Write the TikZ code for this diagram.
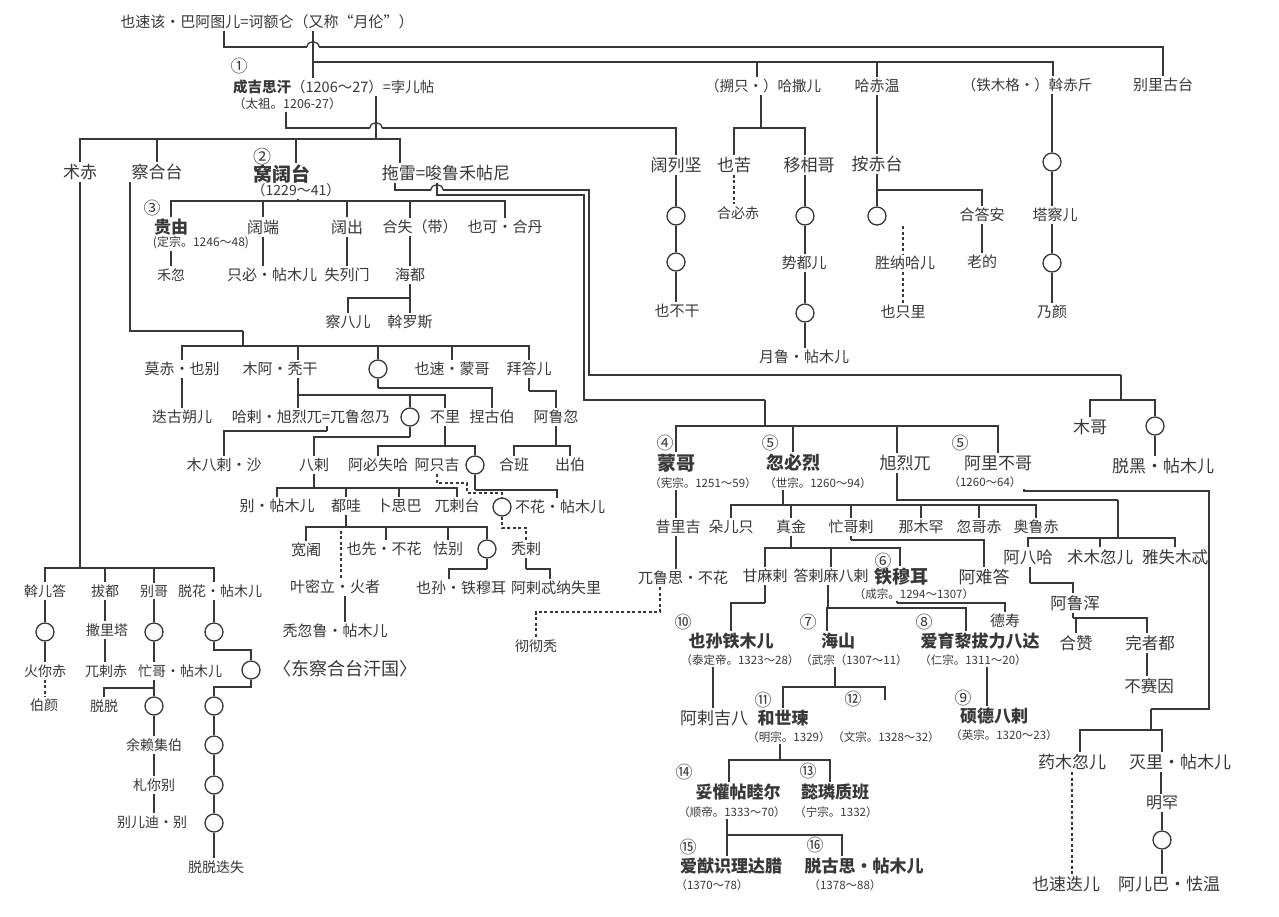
\documentclass[tikz,border=0pt]{standalone}
\usepackage{fontspec}
\setmainfont{Noto Sans CJK SC}
\newcommand\famline[3]{\draw (#1) -- (#1 |- 0,#2); \foreach \kidpt in {#3}{\draw (#1 |- 0,#2) -| (\kidpt);}}
\begin{document}
\begin{tikzpicture}[x=1pt,y=-1pt,line width=1.3pt,color=black!78,
  t/.style={inner sep=1.5pt,font=\fontsize{15}{15}\selectfont},
  fs/.style={font=\fontsize{#1}{#1}\selectfont},
  fb/.style={font=\fontsize{#1}{#1}\selectfont\bfseries},
  an/.style={inner sep=1pt,font=\fontsize{11.5}{11.5}\selectfont},
  num/.style={inner sep=0pt,font=\fontsize{17}{17}\selectfont},
  ring/.style={circle,draw,minimum size=18pt,inner sep=0pt},
  dl/.style={dash pattern=on 3pt off 2.5pt}]
\fill[white] (0,0) rectangle (1279,916);
\useasboundingbox (0,0) rectangle (1279,916);
% ---------- top
\node[t] (ysg) at (267,22) {也速该・巴阿图儿=诃额仑（又称“月伦”）};
\node[num] (n1) at (239,66) {①};
\node[t,fs=14.5,anchor=west] (cj) at (231,87) {{\bfseries 成吉思汗}（1206～27）=孛儿帖};
\node[t,fs=12.5,anchor=west] (cj2) at (231,104) {（太祖。1206-27）};
\node[t,fs=14.5] (hsr) at (763,86) {（搠只・）哈撒儿};
\node[t] (hcw) at (877,86) {哈赤温};
\node[t,fs=14.5] (wcj) at (1027,85) {（铁木格・）斡赤斤};
\node[t] (blgt) at (1163,85) {别里古台};
% ---------- row 2
\node[t,fs=17] (zc) at (80,172) {术赤};
\node[t,fs=17] (chgt) at (157,172) {察合台};
\node[num,fs=18] (n2) at (262,157) {②};
\node[t,fb=19] (wkt) at (282,174) {窝阔台};
\node[t,fs=14] (wkt2) at (296,190) {（1229～41）};
\node[t,fs=17] (tl) at (446,173) {拖雷=唆鲁禾帖尼};
\node[t,fs=17] (kljian) at (676,165) {阔列坚};
\node[t,fs=17] (yk) at (734,165) {也苦};
\node[t,fs=17] (yxg) at (809,165) {移相哥};
\node[t,fs=17] (acd) at (877,164) {按赤台};
\node[ring] (c13) at (1052,162) {};
% ---------- 窝阔台
\node[num] (n3) at (152,208) {③};
\node[t,fb=17] (gy) at (171,227) {贵由};
\node[an,fs=12] (gy2) at (201,243) {(定宗。1246～48)};
\node[t,fs=16] (kd) at (263,227) {阔端};
\node[t,fs=16] (kc) at (347,227) {阔出};
\node[t] (hs) at (420,227) {合失（带）};
\node[t] (ykhd) at (505,227) {也可・合丹};
\node[t,fs=14] (hh) at (171,275) {禾忽};
\node[t] (zbtm) at (272,275) {只必・帖木儿};
\node[t] (slm) at (347,275) {失列门};
\node[t] (hd) at (410,275) {海都};
\node[t] (cbe) at (348,322) {察八儿};
\node[t] (wls) at (410,322) {斡罗斯};
% ---------- top right chains
\node[ring] (c10) at (676,216) {};
\node[ring] (c11) at (676,262) {};
\node[t] (ybg) at (677,311) {也不干};
\node[t,fs=14] (hbc) at (738,213) {合必赤};
\node[ring] (c8) at (805,216) {};
\node[t] (sde) at (804,263) {势都儿};
\node[ring] (c9) at (805,313) {};
\node[t] (ylt) at (804,357) {月鲁・帖木儿};
\node[ring] (c12) at (877,216) {};
\node[t] (hda) at (982,215) {合答安};
\node[t] (ld) at (982,262) {老的};
\node[t] (snhe) at (905,263) {胜纳哈儿};
\node[t] (yzl) at (903,312) {也只里};
\node[t] (tcr) at (1055,215) {塔察儿};
\node[ring] (c14) at (1052,263) {};
\node[t] (ny) at (1052,312) {乃颜};
% ---------- 察合台
\node[t] (mcyb) at (182,369) {莫赤・也别};
\node[t] (matg) at (280,369) {木阿・秃干};
\node[ring] (c1) at (378,369) {};
\node[t] (ysmg) at (452,369) {也速・蒙哥};
\node[t] (bde) at (529,369) {拜答儿};
\node[t] (dgse) at (182,417) {迭古朔儿};
\node[t] (hlxl) at (311,417) {哈剌・旭烈兀=兀鲁忽乃};
\node[ring] (c2) at (410,417) {};
\node[t] (bl) at (445,417) {不里};
\node[t] (ngb) at (492,417) {捏古伯};
\node[t] (alh) at (556,417) {阿鲁忽};
\node[t] (mbls) at (224,465) {木八剌・沙};
\node[t] (bl8) at (314,465) {八剌};
\node[t] (abss) at (378,465) {阿必失哈};
\node[t] (azj) at (437,465) {阿只吉};
\node[ring] (c3) at (475,465) {};
\node[t] (hb) at (514,465) {合班};
\node[t] (cb) at (570,465) {出伯};
\node[t] (bltm) at (277,506) {别・帖木儿};
\node[t] (dw) at (346,506) {都哇};
\node[t] (ssb) at (399,506) {卜思巴};
\node[t] (ult) at (457,506) {兀剌台};
\node[ring] (c4) at (502,507) {};
\node[t] (bhtm) at (560,507) {不花・帖木儿};
\node[t] (kk) at (306,550) {宽阇};
\node[t] (yxbh) at (384,549) {也先・不花};
\node[t] (qb) at (448,549) {怯别};
\node[ring] (c5) at (487,549) {};
\node[t] (tl2) at (526,549) {秃剌};
\node[t] (ymlhz) at (335,587) {叶密立・火者};
\node[t] (ysttme) at (461,588) {也孙・铁穆耳};
\node[t] (alnsl) at (556,588) {阿剌忒纳失里};
\node[t] (tglt) at (335,631) {秃忽鲁・帖木儿};
\node[t,fs=18] (dgh) at (345,669) {〈东察合台汗国〉};
% ---------- 术赤
\node[t,fs=14] (wed) at (45,591) {斡儿答};
\node[t,fs=14] (bd) at (105,591) {拔都};
\node[t,fs=14] (bg) at (154,591) {别哥};
\node[t,fs=14] (chtm) at (220,591) {脱花・帖木儿};
\node[ring] (c15) at (45,632) {};
\node[t,fs=14] (hnc) at (45,671) {火你赤};
\node[t,fs=14] (by) at (44,705) {伯颜};
\node[t,fs=14] (slt) at (107,630) {撒里塔};
\node[t,fs=14] (ulc) at (106,671) {兀剌赤};
\node[ring] (c16) at (154,632) {};
\node[t,fs=14] (mgtm) at (180,671) {忙哥・帖木儿};
\node[t,fs=14] (tt) at (104,706) {脱脱};
\node[ring] (c17) at (154,706) {};
\node[t,fs=14] (ylj) at (154,745) {余赖集伯};
\node[t,fs=14] (zne) at (154,785) {札你别};
\node[t,fs=14] (beb) at (152,822) {别儿迪・别};
\node[ring] (c18) at (214,632) {};
\node[ring] (c19) at (251,670) {};
\node[ring] (c20) at (214,706) {};
\node[ring] (c21) at (214,745) {};
\node[ring] (c22) at (214,785) {};
\node[ring] (c23) at (214,823) {};
\node[t,fs=14] (ttms) at (216,867) {脱脱迭失};
% ---------- 拖雷
\node[t,fs=17] (mg) at (1090,427) {木哥};
\node[ring] (c6) at (1155,426) {};
\node[t,fs=17] (thtm) at (1163,466) {脱黑・帖木儿};
\node[num] (n4) at (665,443) {④};
\node[t,fb=19] (mgg) at (676,463) {蒙哥};
\node[an] (mgg2) at (703,483) {（宪宗。1251～59）};
\node[num] (n5a) at (770,443) {⑤};
\node[t,fb=18] (hbl) at (793,463) {忽必烈};
\node[an] (hbl2) at (818,483) {（世宗。1260～94）};
\node[t,fs=17] (xlw) at (905,463) {旭烈兀};
\node[num] (n5b) at (960,443) {⑤};
\node[t,fs=17] (albg) at (998,463) {阿里不哥};
\node[an] (albg2) at (985,482) {（1260～64）};
\node[t] (slj) at (678,527) {昔里吉};
\node[t] (dre) at (731,527) {朵儿只};
\node[t] (zj) at (791,527) {真金};
\node[t] (mgl) at (851,527) {忙哥剌};
\node[t] (nmh) at (921,527) {那木罕};
\node[t] (hgc) at (979,527) {忽哥赤};
\node[t] (olc) at (1036,527) {奥鲁赤};
\node[t,fs=16.5] (abh) at (1028,557) {阿八哈};
\node[t,fs=16.5] (jmhe) at (1100,557) {术木忽儿};
\node[t,fs=16.5] (ysmt) at (1175,557) {雅失木忒};
\node[t] (ylsbh) at (683,578) {兀鲁思・不花};
\node[t] (gml) at (765,576) {甘麻剌};
\node[t] (dlmbl) at (831,576) {答剌麻八剌};
\node[num] (n6) at (883,561) {⑥};
\node[t,fb=18] (tme) at (901,577) {铁穆耳};
\node[an] (tme2) at (914,594) {（成宗。1294～1307）};
\node[t,fs=17] (anda) at (984,577) {阿难答};
\node[t,fs=16.5] (alhn) at (1075,603) {阿鲁浑};
\node[t,fs=14] (cct) at (536,646) {彻彻秃};
\node[num] (n10) at (683,622) {⑩};
\node[t,fb=17] (ystme) at (731,641) {也孙铁木儿};
\node[an] (ystme2) at (740,660) {（泰定帝。1323～28）};
\node[num] (n7) at (808,622) {⑦};
\node[t,fb=17] (hs2) at (838,641) {海山};
\node[an] (hs22) at (854,660) {（武宗（1307～11）};
\node[num] (n8) at (924,622) {⑧};
\node[t,fb=17] (ayl) at (980,641) {爱育黎拔力八达};
\node[an] (ayl2) at (973,660) {（仁宗。1311～20）};
\node[t] (ds) at (1005,621) {德寿};
\node[t,fs=16.5] (hz) at (1076,643) {合赞};
\node[t,fs=16.5] (wzd) at (1150,643) {完者都};
\node[t,fs=16.5] (bsy) at (1149,686) {不赛因};
\node[t,fs=17] (alj8) at (714,718) {阿剌吉八};
\node[num] (n11) at (763,700) {⑪};
\node[t,fb=17] (hsw) at (783,718) {和世瑓};
\node[an] (hsw2) at (789,737) {（明宗。1329）};
\node[num] (n12) at (853,699) {⑫};
\node[an] (wz2) at (886,737) {（文宗。1328～32）};
\node[num] (n9) at (963,698) {⑨};
\node[t,fb=17] (sdbl) at (994,716) {硕德八剌};
\node[an] (sdbl2) at (1004,735) {（英宗。1320～23）};
\node[num] (n14) at (684,772) {⑭};
\node[t,fb=17] (thtmr) at (738,792) {妥懽帖睦尔};
\node[an] (thtmr2) at (732,812) {（顺帝。1333～70）};
\node[num] (n13) at (808,771) {⑬};
\node[t,fb=17] (yljb) at (835,792) {懿璘质班};
\node[an] (yljb2) at (836,812) {（宁宗。1332）};
\node[num] (n15) at (688,847) {⑮};
\node[t,fb=17] (aysl) at (731,866) {爱猷识理达腊};
\node[an] (aysl2) at (712,885) {（1370～78）};
\node[num] (n16) at (815,845) {⑯};
\node[t,fb=17] (tgs) at (864,866) {脱古思・帖木儿};
\node[an] (tgs2) at (845,885) {（1378～88）};
\node[t,fs=17] (ymhe) at (1072,762) {药木忽儿};
\node[t,fs=17] (mltm) at (1180,762) {灭里・帖木儿};
\node[t,fs=16] (mh) at (1162,803) {明罕};
\node[ring] (c7) at (1162,840) {};
\node[t,fs=17] (ysde) at (1066,884) {也速迭儿};
\node[t,fs=17] (aebqw) at (1169,884) {阿儿巴・怯温};
% ---------- helper points
\coordinate (hsrT) at (hsr.north -| 757,0);
\coordinate (hsrB) at (hsr.south -| 761,0);
\coordinate (wcjT) at (wcj.north -| 1053,0);
\coordinate (wcjB) at (wcj.south -| 1052,0);
\coordinate (cjF) at (cj2.south -| 286,0);
\coordinate (cjM) at (cj.south -| 376,0);
\coordinate (wktT) at (wkt.north -| 296,0);
\coordinate (tlT) at (tl.north -| 400,0);
\coordinate (tlF) at (tl.south -| 395,0);
\coordinate (tlM) at (tl.south -| 437,0);
\coordinate (wkB) at (wkt2.south -| 298,0);
\coordinate (hsT) at (hs.north -| 410,0);
\coordinate (hsB) at (hs.south -| 410,0);
\coordinate (yxgT) at (yxg.north -| 805,0);
\coordinate (yxgB) at (yxg.south -| 805,0);
\coordinate (snTop) at (903,226);
\coordinate (chB) at (chgt.south -| 130,0);
\coordinate (matgT) at (matg.north -| 298,0);
\coordinate (matgB) at (matg.south -| 298,0);
\coordinate (hlxlB) at (hlxl.south -| 327,0);
\coordinate (bhtmT) at (bhtm.north -| 557,0);
\coordinate (yxbhT) at (yxbh.north -| 386,0);
\coordinate (dwbar) at (341,527);
\coordinate (ysttmeT) at (ysttme.north -| 449,0);
\coordinate (alnslT) at (alnsl.north -| 550,0);
\coordinate (chtmT) at (chtm.north -| 214,0);
\coordinate (chtmB) at (chtm.south -| 214,0);
\coordinate (mgtmB) at (mgtm.south -| 154,0);
\coordinate (xlwT) at (xlw.north -| 897,0);
\coordinate (xlwB) at (xlw.south -| 897,0);
\coordinate (hblB) at (hbl2.south -| 783,0);
\coordinate (ylD) at (ylsbh.south -| 660,0);
\coordinate (tmeT) at (tme.north -| 900,0);
\coordinate (tmeB) at (tme2.south -| 897,0);
\coordinate (dlB) at (dlmbl.south -| 828,0);
\coordinate (hs2T) at (hs2.north -| 827,0);
\coordinate (aylT) at (ayl.north -| 966,0);
\coordinate (aylB) at (ayl2.south -| 987,0);
\coordinate (hsB2) at (hs22.south -| 835,0);
\coordinate (wzT) at (885,700);
\coordinate (hswB) at (hsw2.south -| 780,0);
\coordinate (thtmrT) at (thtmr.north -| 729,0);
\coordinate (yljbT) at (yljb.north -| 830,0);
\coordinate (thB) at (thtmr2.south -| 727,0);
\coordinate (aysT) at (aysl.north -| 727,0);
\coordinate (tgsT) at (tgs.north -| 842,0);
\coordinate (abhB) at (abh.south -| 1030,0);
\coordinate (alhnT) at (alhn.north -| 1073,0);
\coordinate (alhnB) at (alhn.south -| 1073,0);
\coordinate (wzdT) at (wzd.north -| 1147,0);
\coordinate (wzdB) at (wzd.south -| 1147,0);
\coordinate (albgB) at (albg2.south -| 1024,0);
\coordinate (ymheT) at (ymhe.north -| 1080,0);
\coordinate (mltmT) at (mltm.north -| 1162,0);
\coordinate (mltmB) at (mltm.south -| 1161,0);
% ---------- top lines (hops drawn as separate short arcs)
\draw (ysg.south -| 224,0) |- (307,47);
\draw (307,47) .. controls (307,40) and (319,40) .. (319,47);
\draw (319,47) -| (blgt.north);
\draw (ysg.south -| 313,0) -- (cj.north -| 313,0);
\famline{313,62}{62}{hsrT, hcw.north, wcjT}
\draw (cjF) |- (370,128);
\draw (370,128) .. controls (370,121) and (382,121) .. (382,128);
\draw (382,128) -| (kljian.north);
\famline{cjM}{139}{zc.north, chgt.north, wktT, tlT}
% 窝阔台
\famline{wkB}{201}{gy.north, kd.north, kc.north, hsT, ykhd.north}
\draw (gy2.south -| gy) -- (hh.north);
\draw (kd.south) -- (kd.south |- zbtm.north);
\draw (kc.south) -- (slm.north);
\draw (hsB) -- (hd.north);
\famline{hd.south}{298}{cbe.north, wls.north}
% top right
\draw (kljian.south) -- (c10.north);
\draw (c10.south) -- (c11.north);
\draw (c11.south) -- (ybg.north -| c11);
\famline{hsrB}{128}{yk.north, yxgT}
\draw[dl] (yk.south) -- (yk.south |- hbc.north);
\draw (yxgB) -- (c8.north);
\draw (c8.south) -- (c8.south |- sde.north);
\draw (sde.south -| c8) -- (c9.north);
\draw (c9.south) -- (c9.south |- ylt.north);
\draw (hcw.south) -- (hcw.south |- acd.north);
\famline{acd.south}{190}{c12.north, hda.north}
\draw (hda.south) -- (ld.north);
\draw[dl] (snTop) -- (snhe.north -| snTop);
\draw[dl] (snhe.south -| snTop) -- (yzl.north -| snTop);
\draw (wcjB) -- (c13.north);
\draw (c13.south) -- (c13.south |- tcr.north);
\draw (tcr.south -| c13) -- (c14.north);
\draw (c14.south) -- (c14.south |- ny.north);
% 察合台
\draw (chB) |- (243,331);
\famline{243,331}{346}{mcyb.north, matgT, c1.north, ysmg.north, bde.north}
\draw (mcyb.south) -- (dgse.north);
\draw (matgB) -- (hlxl.north -| matgB);
\famline{matgB}{395}{c2.north, bl.north}
\famline{c1.south}{388}{ngb.north}
\famline{bde.south}{391}{alh.north}
\famline{hlxlB}{431}{mbls.north}
\famline{c2.south}{437}{bl8.north}
\famline{bl.south}{446}{abss.north, c3.north}
\famline{alh.south}{446}{hb.north, cb.north}
\famline{bl8.south}{488}{bltm.north, dw.north, ssb.north, ult.north}
\famline{c3.south}{490}{bhtmT}
\draw[dl] (azj.south) |- (467,483) |- (c4.north |- 0,493) -- (c4.north);
\famline{dw.south}{527}{kk.north, yxbhT, qb.north, c5.north}
\draw[dl] (ymlhz.north -| dwbar) -- (dwbar);
\draw[dl] (c4.south) |- (tl2.north |- 0,528) -- (tl2.north);
\famline{c5.south}{569}{ysttmeT}
\famline{tl2.south}{569}{alnslT}
\draw (ymlhz.south -| 345,0) -- (tglt.north -| 345,0);
% 术赤
\famline{zc.south}{568}{wed.north, bd.north, bg.north, chtmT}
\draw (wed.south) -- (c15.north);
\draw (c15.south) -- (hnc.north);
\draw[dl] (hnc.south) -- (hnc.south |- by.north);
\draw (bd.south) -- (slt.north -| bd);
\draw (slt.south -| bd) -- (ulc.north -| bd);
\draw (bg.south) -- (c16.north);
\draw (c16.south) -- (mgtm.north -| c16);
\famline{mgtmB}{688}{tt.north, c17.north}
\draw (c17.south) -- (ylj.north);
\draw (ylj.south) -- (zne.north);
\draw (zne.south) -- (beb.north -| zne);
\draw (chtmB) -- (c18.north);
\draw (c18.south) |- (c19.north |- 0,650) -- (c19.north);
\draw (c19.south) |- (c20.north |- 0,687) -- (c20.north);
\draw (c20.south) -- (c21.north);
\draw (c21.south) -- (c22.north);
\draw (c22.south) -- (c23.north);
\draw (c23.south) -- (ttms.north -| c23);
% 拖雷
\draw (tlF) |- (431,190);
\draw (431,190) .. controls (431,183) and (443,183) .. (443,190);
\draw (443,190) -| (589,375) -- (1121,375);
\famline{1121,375}{400}{mg.north, c6.north}
\draw (c6.south) -- (c6.south |- thtm.north);
\draw (tlM) |- (584,195) |- (765,400);
\famline{765,400}{426}{mgg.north, hbl.north, xlwT, albg.north}
\draw (mgg2.south -| mgg) -- (slj.north -| mgg);
\draw (slj.south -| mgg) -- (ylsbh.north -| mgg);
\draw[dl] (ylD) |- (cct.north |- 0,612) -- (cct.north);
\famline{hblB}{505}{dre.north, zj.north, mgl.north, nmh.north, hgc.north, olc.north}
\draw (xlwB) |- (1118,500);
\famline{1118,500}{538}{abh.north, jmhe.north, ysmt.north}
\famline{mgl.south}{540}{anda.north}
\famline{zj.south}{548}{gml.north, dlmbl.north, tmeT}
\famline{gml.south}{603}{ystme.north}
\famline{dlB}{608}{hs2T, aylT}
\famline{tmeB}{603}{ds.north}
\draw (ystme2.south -| 713,0) -- (alj8.north -| 713,0);
\famline{hsB2}{687}{hsw.north, wzT}
\famline{hswB}{760}{thtmrT, yljbT}
\famline{thB}{835}{aysT, tgsT}
\draw (aylB) -- (sdbl.north -| aylB);
\famline{abhB}{583}{alhnT}
\famline{alhnB}{618}{hz.north, wzdT}
\draw (wzdB) -- (bsy.north -| wzdB);
\draw (albgB) |- (1209,491) |- (1151,709);
\famline{1151,709}{730}{ymheT, mltmT}
\draw[dl] (ymhe.south) -- (ymhe.south |- ysde.north);
\draw (mltmB) -- (mh.north -| mltmB);
\draw (mh.south) -- (c7.north);
\draw (c7.south) -- (c7.south |- aebqw.north);
\end{tikzpicture}
\end{document}
